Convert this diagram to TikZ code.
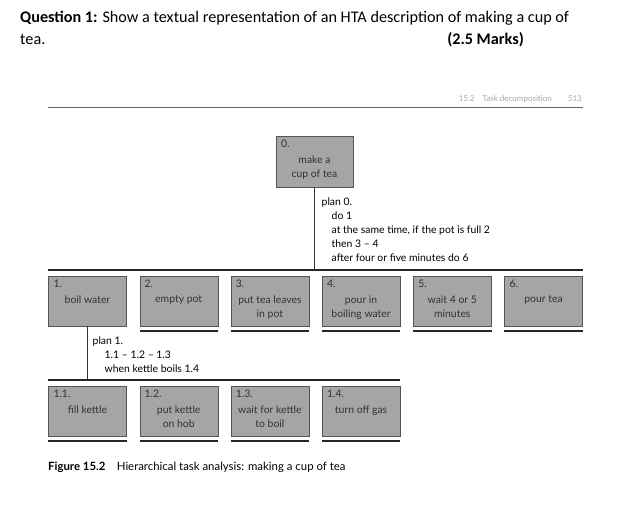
\documentclass[tikz,border=0pt]{standalone}
\usepackage{fontspec}
\setmainfont{Carlito}
\newfontfamily\figfont{Lato}
\usetikzlibrary{positioning}
\definecolor{boxgray}{RGB}{165,165,165}
\definecolor{boxline}{RGB}{85,85,85}
\definecolor{inkgray}{RGB}{50,50,50}

\begin{document}
\begin{tikzpicture}[x=1pt,y=-1pt,
  task/.style={draw=boxline, fill=boxgray, minimum width=78pt, minimum height=50pt, inner sep=0pt},
  tasknum/.style={anchor=base west, inner sep=0pt, xshift=5pt, yshift=-12pt, text=inkgray, font=\figfont\fontsize{10.4}{12}\selectfont},
  tasktext/.style={anchor=north, inner sep=0pt, align=center, text=inkgray, font=\figfont\fontsize{10.4}{14}\selectfont},
  plantext/.style={anchor=north west, inner sep=0pt, align=left, font=\figfont\fontsize{10.4}{14.2}\selectfont},
  bar/.style={draw=black!85, line width=1.3pt},
  stem/.style={draw=black!80, line width=0.9pt},
  underbar/.style={draw=black!85, line width=1.6pt}]
\useasboundingbox (0,0) rectangle (630,514);

% question heading
\node[anchor=base west, inner sep=0pt, font=\fontsize{16.2}{19}\selectfont] (qline) at (20,22)
  {\textbf{Question 1:} Show a textual representation of an HTA description of making a cup of};
\node[anchor=base west, inner sep=0pt, font=\fontsize{16.2}{19}\selectfont] (qtea) at (20,44) {tea.};
\node[anchor=base east, inner sep=0pt, font=\bfseries\fontsize{16.2}{19}\selectfont] (marks) at (524,44) {(2.5 Marks)};

% page header of the book
\node[anchor=base east, inner sep=0pt, text=black!35, font=\figfont\fontsize{8}{10}\selectfont] (pagehead) at (582,101)
  {15.2\quad Task decomposition\qquad 513};
\draw[draw=black!60, line width=1.2pt] (48,107.5) coordinate (headL) -- (583,107.5) coordinate (headR);

% top task
\node[task, minimum width=77pt, minimum height=51pt] (t0) at (314.5,161.5) {};
\node[tasknum] at (t0.north west) {0.};
\node[tasktext] at ([yshift=-20pt]t0.north) {make a\\cup of tea};

% level 1 tasks
\node[task] (t1) at (87.5,301) {};
\node[task] (t2) at (178.7,301) {};
\node[task] (t3) at (269.9,301) {};
\node[task] (t4) at (361.1,301) {};
\node[task] (t5) at (452.3,301) {};
\node[task] (t6) at (543.5,301) {};
\node[tasknum] at (t1.north west) {1.};
\node[tasknum] at (t2.north west) {2.};
\node[tasknum] at (t3.north west) {3.};
\node[tasknum] at (t4.north west) {4.};
\node[tasknum] at (t5.north west) {5.};
\node[tasknum] at (t6.north west) {6.};
\node[tasktext] at ([yshift=-20pt]t1.north) {boil water};
\node[tasktext] at ([yshift=-20pt]t2.north) {empty pot};
\node[tasktext] at ([yshift=-20pt]t3.north) {put tea leaves\\in pot};
\node[tasktext] at ([yshift=-20pt]t4.north) {pour in\\boiling water};
\node[tasktext] at ([yshift=-20pt]t5.north) {wait 4 or 5\\minutes};
\node[tasktext] at ([yshift=-20pt]t6.north) {pour tea};

% level 2 tasks
\node[task] (t11) at (87.5,411) {};
\node[task] (t12) at (178.7,411) {};
\node[task] (t13) at (269.9,411) {};
\node[task] (t14) at (361.1,411) {};
\node[tasknum] at (t11.north west) {1.1.};
\node[tasknum] at (t12.north west) {1.2.};
\node[tasknum] at (t13.north west) {1.3.};
\node[tasknum] at (t14.north west) {1.4.};
\node[tasktext] at ([yshift=-20pt]t11.north) {fill kettle};
\node[tasktext] at ([yshift=-20pt]t12.north) {put kettle\\on hob};
\node[tasktext] at ([yshift=-20pt]t13.north) {wait for kettle\\to boil};
\node[tasktext] at ([yshift=-20pt]t14.north) {turn off gas};

% plan 0
\coordinate (bar0) at (0,270);
\draw[stem] (t0.south) -- (t0.south |- bar0);
\draw[bar] (t1.west |- bar0) -- (t6.east |- bar0);
\node[plantext] (plan0) at ([xshift=7pt,yshift=-10pt]t0.south) {plan 0.\\
  \hspace*{10pt}do 1\\
  \hspace*{10pt}at the same time, if the pot is full 2\\
  \hspace*{10pt}then 3 – 4\\
  \hspace*{10pt}after four or five minutes do 6};

% plan 1
\coordinate (bar1) at (0,380);
\draw[stem] (t1.south) -- (t1.south |- bar1);
\draw[bar] (t11.west |- bar1) -- (t14.east |- bar1);
\node[plantext] (plan1) at ([xshift=5pt,yshift=-10pt]t1.south) {plan 1.\\
  \hspace*{12pt}1.1 – 1.2 – 1.3\\
  \hspace*{12pt}when kettle boils 1.4};

% bottom lines under the plain tasks
\foreach \t in {t2,t3,t4,t5,t6,t11,t12,t13,t14}
  \draw[underbar] ([yshift=-4.5pt]\t.south west) -- ([yshift=-4.5pt]\t.south east);

% caption
\node[anchor=base west, inner sep=0pt, font=\figfont\fontsize{11.4}{13}\selectfont] (caption) at (48,470)
  {\textbf{Figure 15.2}\quad Hierarchical task analysis: making a cup of tea};
\end{tikzpicture}
\end{document}
